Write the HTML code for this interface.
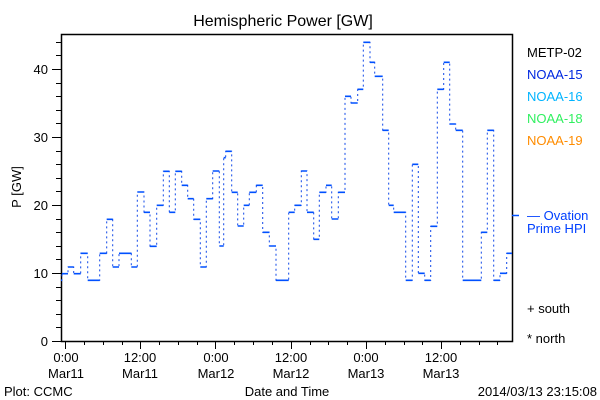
<!DOCTYPE html>
<html><head><meta charset="utf-8"><style>
html,body{margin:0;padding:0;background:#fff}
svg{display:block}
text{font-family:"Liberation Sans",sans-serif;font-size:13px;fill:#000}
</style></head><body>
<svg width="600" height="400" viewBox="0 0 600 400" xmlns="http://www.w3.org/2000/svg">
<rect width="600" height="400" fill="#fff"/>
<text x="283" y="26" text-anchor="middle" style="font-size:16px">Hemispheric Power [GW]</text>
<path d="M61.5 34.5 H512.5 V341.5 H61.5 Z" fill="none" stroke="#000" stroke-width="1.5"/>
<g stroke="#000" stroke-width="1">
<path d="M52 341.5H61M52 273.5H61M52 205.5H61M52 137.5H61M52 69.5H61"/>
<path d="M56 327.5H61M56 314.5H61M56 300.5H61M56 287.5H61M56 259.5H61M56 246.5H61M56 232.5H61M56 219.5H61M56 191.5H61M56 178.5H61M56 164.5H61M56 151.5H61M56 123.5H61M56 110.5H61M56 96.5H61M56 83.5H61M56 55.5H61M56 42.5H61"/>
<path d="M65.5 341V349M140.5 341V349M215.5 341V349M291.5 341V349M366.5 341V349M441.5 341V349"/>
<path d="M84.5 341V345M103.5 341V345M122.5 341V345M159.5 341V345M178.5 341V345M197.5 341V345M234.5 341V345M253.5 341V345M272.5 341V345M310.5 341V345M328.5 341V345M347.5 341V345M385.5 341V345M404.5 341V345M422.5 341V345M460.5 341V345M479.5 341V345M497.5 341V345"/>
</g>
<g text-anchor="end">
<text x="48" y="346">0</text><text x="48" y="278">10</text><text x="48" y="210">20</text><text x="48" y="142">30</text><text x="48" y="74">40</text>
</g>
<text transform="translate(21,187) rotate(-90)" text-anchor="middle">P [GW]</text>
<g text-anchor="middle">
<text x="66" y="362">0:00</text><text x="66" y="378">Mar11</text>
<text x="140" y="362">12:00</text><text x="140" y="378">Mar11</text>
<text x="216" y="362">0:00</text><text x="216" y="378">Mar12</text>
<text x="291" y="362">12:00</text><text x="291" y="378">Mar12</text>
<text x="366" y="362">0:00</text><text x="366" y="378">Mar13</text>
<text x="441" y="362">12:00</text><text x="441" y="378">Mar13</text>
<text x="287" y="396">Date and Time</text>
</g>
<text x="4" y="396">Plot: CCMC</text>
<text x="597" y="396" text-anchor="end">2014/03/13 23:15:08</text>
<text x="527" y="57" style="fill:#000">METP-02</text>
<text x="527" y="79" style="fill:#0028e0">NOAA-15</text>
<text x="527" y="101" style="fill:#00b4ff">NOAA-16</text>
<text x="527" y="123" style="fill:#30f060">NOAA-18</text>
<text x="527" y="145" style="fill:#ff8c00">NOAA-19</text>
<text x="527" y="220" style="fill:#0040ff">— Ovation</text>
<text x="527" y="233" style="fill:#0040ff">Prime HPI</text>
<text x="527" y="313">+ south</text>
<text x="527" y="343">* north</text>
<line x1="512" y1="215.5" x2="519" y2="215.5" stroke="#0050ff" stroke-width="1.5"/>
<path fill="none" stroke="#1048e8" stroke-width="1" stroke-dasharray="2 3" d="M61 280.3H62V273.7H68V267H73.7V273.7H80.7V253.3H87.7V280.3H99.7V253.3H106.7V219.3H112.7V267H119V253.3H131.3V267H137.3V192H144V212.3H150V246.3H156.7V205.3H163.3V171.3H169.3V212.3H175.3V171.3H181.7V185.3H187.7V198.7H193.7V219.3H200.3V267H206.3V198.7H212.7V171H219.3V246H223.7V157.7H225.7V151.3H231.7V192.3H237.7V226H243.7V205.3H249.3V192.3H256.3V185.3H262.7V232.3H269.3V246H276V280.3H288.7V212.3H294.7V205.3H301.3V171H307V212.3H313.7V239.3H319.3V192.3H326V185.3H331.7V219H338.3V192.3H345V96.3H351V103H357.7V89.3H363.3V42.3H370V62.3H374.7V76.3H382.7V130.3H388.7V205.3H393.7V212.3H405.7V280.3H412.3V164.3H418.3V273.3H424.7V280.3H430.7V226.3H437.3V89.3H443.7V62.3H449.7V124H455.7V130.3H462.7V280.3H481.3V232.3H487.3V130.3H493.7V280.3H500V273.3H506.7V253.3H512"/>
<path fill="none" stroke="#0050ff" stroke-width="1.6" d="M61 280.3H62M62 273.7H68M68 267H73.7M73.7 273.7H80.7M80.7 253.3H87.7M87.7 280.3H99.7M99.7 253.3H106.7M106.7 219.3H112.7M112.7 267H119M119 253.3H131.3M131.3 267H137.3M137.3 192H144M144 212.3H150M150 246.3H156.7M156.7 205.3H163.3M163.3 171.3H169.3M169.3 212.3H175.3M175.3 171.3H181.7M181.7 185.3H187.7M187.7 198.7H193.7M193.7 219.3H200.3M200.3 267H206.3M206.3 198.7H212.7M212.7 171H219.3M219.3 246H223.7M223.7 157.7H225.7M225.7 151.3H231.7M231.7 192.3H237.7M237.7 226H243.7M243.7 205.3H249.3M249.3 192.3H256.3M256.3 185.3H262.7M262.7 232.3H269.3M269.3 246H276M276 280.3H288.7M288.7 212.3H294.7M294.7 205.3H301.3M301.3 171H307M307 212.3H313.7M313.7 239.3H319.3M319.3 192.3H326M326 185.3H331.7M331.7 219H338.3M338.3 192.3H345M345 96.3H351M351 103H357.7M357.7 89.3H363.3M363.3 42.3H370M370 62.3H374.7M374.7 76.3H382.7M382.7 130.3H388.7M388.7 205.3H393.7M393.7 212.3H405.7M405.7 280.3H412.3M412.3 164.3H418.3M418.3 273.3H424.7M424.7 280.3H430.7M430.7 226.3H437.3M437.3 89.3H443.7M443.7 62.3H449.7M449.7 124H455.7M455.7 130.3H462.7M462.7 280.3H481.3M481.3 232.3H487.3M487.3 130.3H493.7M493.7 280.3H500M500 273.3H506.7M506.7 253.3H512"/>
</svg>
</body></html>
